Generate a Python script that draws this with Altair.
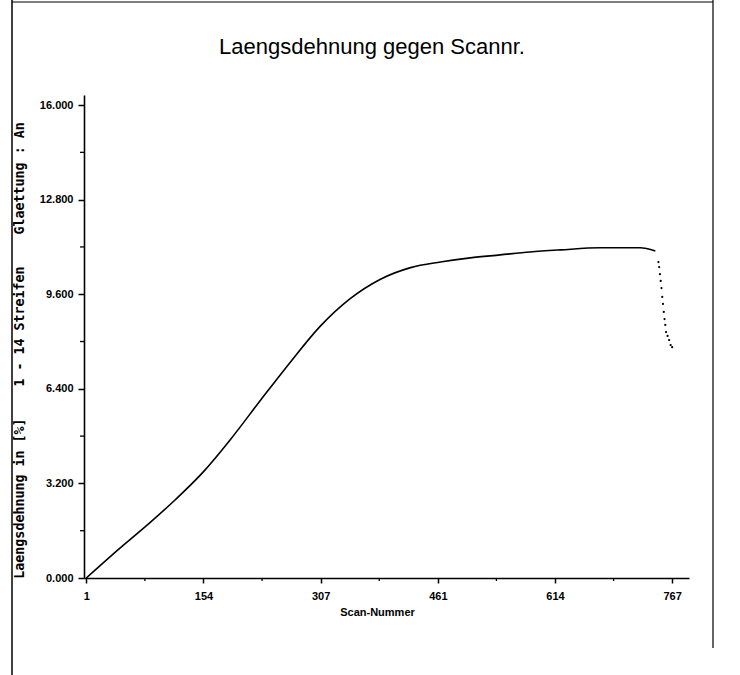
import altair as alt
import pandas as pd

# Laengsdehnung (elongation, %) over scan number
scan_main = [1, 45, 85, 117, 154, 189, 229, 268, 307, 346, 385, 425, 464, 503,
             542, 581, 621, 673, 725, 745]
value_main = [0.0, 1.01, 1.89, 2.64, 3.59, 4.67, 6.02, 7.31, 8.52, 9.45, 10.10,
              10.50, 10.69, 10.83, 10.93, 11.03, 11.10, 11.17, 11.17, 11.06]

# final drop after specimen failure, drawn as single scan points
scan_tail = [749, 750, 751, 752, 753, 754, 755, 756, 757, 758, 759, 761, 763, 765, 767]
value_tail = [10.69, 10.52, 10.28, 10.05, 9.81, 9.51, 9.27, 9.00, 8.76, 8.56,
              8.32, 8.19, 8.05, 7.88, 7.81]

# axis divisions: range split into five equal parts, half-steps as minor ticks
x_major = [1, 154.2, 307.4, 460.6, 613.8, 767]
x_minor = [77.6, 230.8, 384.0, 537.2, 690.4]
y_major = [0.0, 3.2, 6.4, 9.6, 12.8, 16.0]
y_minor = [1.6, 4.8, 8.0, 11.2, 14.4]

TITLE = "Laengsdehnung gegen Scannr."
X_TITLE = "Scan-Nummer"
NB = "\u00a0"
Y_TITLE = f"Laengsdehnung in [%]{NB*4}1 - 14 Streifen{NB*4}Glaettung : An"

W, H = 605, 483
LEFT, TOP = 84, 95
FONT = "Liberation Sans"
MONO = "DejaVu Sans Mono"

main = pd.DataFrame({"scan": scan_main, "dehnung": value_main})
tail = pd.DataFrame({"scan": scan_tail, "dehnung": value_tail})
xminor = pd.DataFrame({"scan": x_minor})
yminor = pd.DataFrame({"dehnung": y_minor})
one = pd.DataFrame({"k": [0]})

xs = alt.Scale(domain=[-2, 789], nice=False, zero=False)
ys = alt.Scale(domain=[0, 16.34], nice=False, zero=False)

x_axis = alt.Axis(
    values=x_major, format=".0f", title=X_TITLE, tickSize=5, labelPadding=7,
    titleX=377 - LEFT, titleY=34, titleAlign="center", titleBaseline="middle",
    titleFont=FONT, titleFontSize=11, titleFontWeight="bold",
)
y_axis = alt.Axis(
    values=y_major, format=".3f", title=Y_TITLE, tickSize=6, labelPadding=5,
    titleX=19 - LEFT, titleY=350 - TOP, titleAlign="center", titleBaseline="middle",
    titleFont=MONO, titleFontSize=13.3, titleFontWeight="bold",
)

curve = alt.Chart(main).mark_line(
    color="black", strokeWidth=1.6, interpolate="monotone"
).encode(
    x=alt.X("scan:Q", scale=xs, axis=x_axis),
    y=alt.Y("dehnung:Q", scale=ys, axis=y_axis),
)

drop = alt.Chart(tail).mark_point(
    color="black", filled=True, size=5, opacity=1
).encode(x=alt.X("scan:Q", scale=xs), y=alt.Y("dehnung:Q", scale=ys))

x_minor_ticks = alt.Chart(xminor).mark_rule(color="black", strokeWidth=1.3).encode(
    x=alt.X("scan:Q", scale=xs), y=alt.value(H), y2=alt.value(H + 3)
)
y_minor_ticks = alt.Chart(yminor).mark_rule(color="black", strokeWidth=1.3).encode(
    y=alt.Y("dehnung:Q", scale=ys), x=alt.value(-4), x2=alt.value(0)
)

# page frame
frame_left = alt.Chart(one).mark_rule(color="black", strokeWidth=1.5).encode(
    x=alt.value(12 - LEFT), y=alt.value(0 - TOP), y2=alt.value(675 - TOP)
)
frame_top = alt.Chart(one).mark_rule(color="black", strokeWidth=1.2).encode(
    x=alt.value(12 - LEFT), x2=alt.value(713 - LEFT), y=alt.value(2 - TOP)
)
frame_right = alt.Chart(one).mark_rule(color="black", strokeWidth=1.2).encode(
    x=alt.value(713 - LEFT), y=alt.value(0 - TOP), y2=alt.value(648 - TOP)
)

title = alt.Chart(one).mark_text(
    text=TITLE, font=FONT, fontSize=22, align="center", baseline="middle", color="black"
).encode(x=alt.value(372 - LEFT), y=alt.value(47 - TOP))

chart = alt.layer(
    curve, drop, x_minor_ticks, y_minor_ticks, frame_left, frame_top, frame_right, title
).properties(
    width=W, height=H,
    padding={"left": LEFT, "top": TOP, "right": 740 - LEFT - W, "bottom": 675 - TOP - H},
    autosize=alt.AutoSizeParams(type="none"),
    background="white",
).configure_view(stroke=None).configure_axis(
    grid=False, domainColor="black", domainWidth=1.6, tickColor="black", tickWidth=1.5,
    labelFont=FONT, labelFontSize=11, labelFontWeight="bold", labelColor="black",
    titleColor="black",
)

chart.save("out.html", embed_options={"renderer": "svg", "actions": False})
